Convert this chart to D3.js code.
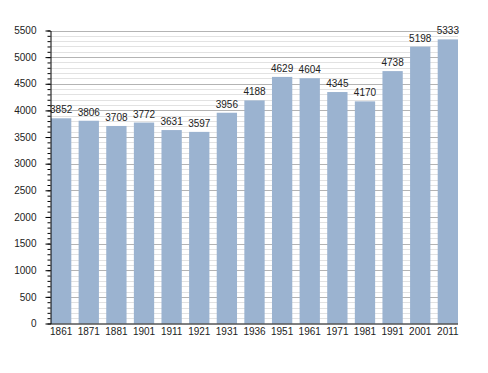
<!DOCTYPE html>
<meta charset="utf-8">
<title>Population</title>
<script src="https://d3js.org/d3.v7.min.js"></script>
<style>
  body { margin: 0; background: #fff; }
  text { font-family: "Liberation Sans", Arial, sans-serif; }
</style>
<div id="chart"></div>
<script>

var years = ["1861","1871","1881","1901","1911","1921","1931","1936","1951","1961","1971","1981","1991","2001","2011"];
var population = [3852,3806,3708,3772,3631,3597,3956,4188,4629,4604,4345,4170,4738,5198,5333];
var yMajorTicks = [0,500,1000,1500,2000,2500,3000,3500,4000,4500,5000,5500];
var yMinorTicks = d3.range(0, 5501, 100);

var W = 488, H = 373;
var plotLeft = 50, plotRight = 458, plotTop = 30.5, plotBottom = 323.5;

var svg = d3.select("#chart")
  .append("svg")
    .attr("width", W)
    .attr("height", H);

var x = d3.scaleBand()
  .domain(years)
  .range([plotLeft + 1, plotRight])
  .paddingInner(0.265)
  .paddingOuter(0)
  .align(0);

var y = d3.scaleLinear()
  .domain([0, 5500])
  .range([plotBottom, plotTop]);

// grid
svg.append("g")
  .selectAll("line")
  .data(yMinorTicks.filter(function(d){ return d % 500 != 0; }))
  .enter()
  .append("line")
    .attr("x1", plotLeft).attr("x2", plotRight)
    .attr("y1", function(d){ return Math.round(y(d)) + 0.5; })
    .attr("y2", function(d){ return Math.round(y(d)) + 0.5; })
    .attr("stroke", "#e2e2e2")
    .attr("stroke-width", 1);

svg.append("g")
  .selectAll("line")
  .data(yMajorTicks.filter(function(d){ return d > 0; }))
  .enter()
  .append("line")
    .attr("x1", plotLeft).attr("x2", plotRight)
    .attr("y1", function(d){ return Math.round(y(d)) + 0.5; })
    .attr("y2", function(d){ return Math.round(y(d)) + 0.5; })
    .attr("stroke", "#b4b4b4")
    .attr("stroke-width", 1);

// bars
svg.append("g")
  .selectAll("rect")
  .data(population)
  .enter()
  .append("rect")
    .attr("x", function(d, i){ return x(years[i]); })
    .attr("y", function(d){ return y(d); })
    .attr("width", x.bandwidth())
    .attr("height", function(d){ return plotBottom - y(d); })
    .attr("fill", "#9bb3d0");

// value labels
svg.append("g")
  .selectAll("text")
  .data(population)
  .enter()
  .append("text")
    .attr("x", function(d, i){ return x(years[i]) + x.bandwidth() / 2; })
    .attr("y", function(d){ return y(d) - 5; })
    .attr("text-anchor", "middle")
    .style("font-size", "10px")
    .style("fill", "#222")
    .text(function(d){ return d; });

// y axis minor ticks
svg.append("g")
  .attr("transform", "translate(" + (plotLeft + 0.5) + ",0)")
  .call(d3.axisLeft(y).tickValues(yMinorTicks).tickSize(3).tickFormat(""))
  .call(function(g){ g.select(".domain").remove(); });

// y axis
var yAxis = svg.append("g")
  .attr("transform", "translate(" + (plotLeft + 0.5) + ",0)")
  .call(d3.axisLeft(y).tickValues(yMajorTicks).tickSize(5).tickSizeOuter(0).tickPadding(9).tickFormat(d3.format("d")));
yAxis.selectAll("text").style("font-size", "10px").style("fill", "#222").attr("font-family", null);

// x axis
var xAxis = svg.append("g")
  .attr("transform", "translate(0," + (plotBottom + 0.5) + ")")
  .call(d3.axisBottom(x).tickSize(0).tickPadding(4));
xAxis.select(".domain").attr("d", "M" + plotLeft + ",0H" + plotRight);
xAxis.selectAll("text").style("font-size", "10px").style("fill", "#222").attr("font-family", null);

</script>
